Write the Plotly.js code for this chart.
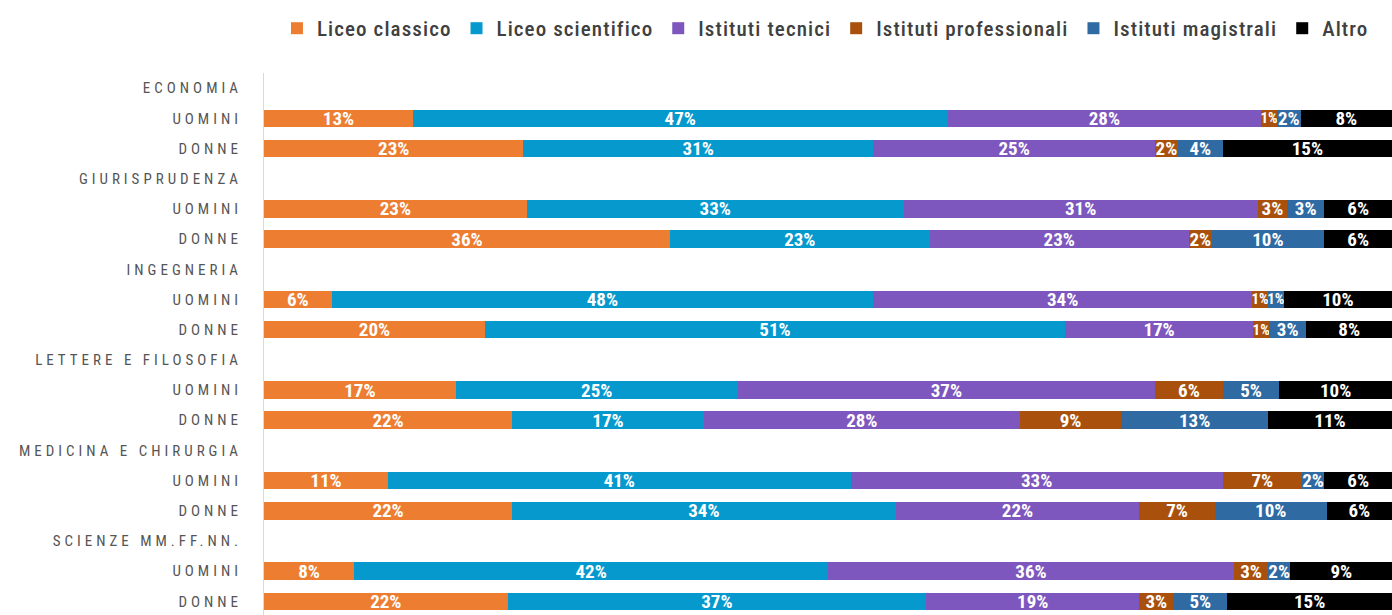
<!DOCTYPE html>
<html><head><meta charset="utf-8">
<script src="https://cdn.plot.ly/plotly-3.0.1.min.js"></script>
<style>
html,body{margin:0;padding:0;background:#fff;}
#chart{width:1392px;height:615px;}
.ytick text{letter-spacing:4px;}
.legendtext{letter-spacing:1.1px;}
</style></head><body><div id="chart"></div>
<script>
const faculties = ["ECONOMIA","GIURISPRUDENZA","INGEGNERIA","LETTERE E FILOSOFIA","MEDICINA E CHIRURGIA","SCIENZE MM.FF.NN."];
const genders = ["UOMINI","DONNE"];
const seriesNames = ["Liceo classico","Liceo scientifico","Istituti tecnici","Istituti professionali","Istituti magistrali","Altro"];
const seriesColors = ["#ED7D31","#0599CE","#7E57BE","#A9510C","#2F6AA3","#000000"];
// rows in order: ECONOMIA U, D, GIURISPRUDENZA U, D, INGEGNERIA U, D, LETTERE U, D, MEDICINA U, D, SCIENZE U, D
const liceoClassico      = [13.2, 23, 23.3, 36,  6,   19.6, 17, 22, 11, 22,   8, 21.6];
const liceoScientifico   = [47.4, 31, 33.4, 23, 48,   51.4, 25, 17, 41, 34,  42, 37.1];
const istitutiTecnici    = [27.8, 25, 31.4, 23, 33.6, 16.7, 37, 28, 33, 21.6, 36, 18.9];
const istitutiProf       = [ 1.4,  2,  2.6,  2,  1.4,  1.4,  6,  9,  7,  6.7, 3,  3.0];
const istitutiMagistrali = [ 2.1,  4,  3.3, 10,  1.4,  3.3,  5, 13,  2,  9.9, 2,  4.8];
const altro              = [ 8.1, 15,  6.0,  6,  9.6,  7.6, 10, 11,  6,  5.8, 9, 14.6];
const seriesValues = [liceoClassico, liceoScientifico, istitutiTecnici, istitutiProf, istitutiMagistrali, altro];

const FONT = '"Roboto Condensed","Open Sans",sans-serif';

// build category axis: header row + gender rows per faculty
const categoryKeys = [], categoryLabels = [], barKeys = [];
faculties.forEach(f => {
  categoryKeys.push(f); categoryLabels.push(f);
  genders.forEach(g => {
    const k = f + "|" + g;
    categoryKeys.push(k); categoryLabels.push(g); barKeys.push(k);
  });
});

const traces = seriesNames.map((name, i) => ({
  type: 'bar', orientation: 'h', name: name,
  x: seriesValues[i], y: barKeys,
  marker: {color: seriesColors[i], line: {width: 0}},
  texttemplate: '%{x:.0f}%',
  textposition: 'inside', insidetextanchor: 'middle', textangle: 0,
  constraintext: 'none',
  insidetextfont: {family: FONT, color: '#ffffff', weight: 700,
    size: seriesValues[i].map(v => v < 1.6 ? 15 : 19)},
  hoverinfo: 'name+x', cliponaxis: false
}));

const layout = {
  width: 1392, height: 615,
  barmode: 'stack', bargap: 0.42,
  margin: {l: 264, r: 0, t: 73, b: 0},
  paper_bgcolor: '#fff', plot_bgcolor: '#fff',
  font: {family: FONT, color: '#555'},
  xaxis: {range: [0, 100], showgrid: false, zeroline: false, showticklabels: false, showline: false, fixedrange: true},
  yaxis: {
    type: 'category', categoryorder: 'array', categoryarray: categoryKeys,
    tickmode: 'array', tickvals: categoryKeys, ticktext: categoryLabels,
    range: [17.45, -0.5], showgrid: false, zeroline: false,
    showline: true, linecolor: '#d9d9d9', linewidth: 1,
    ticks: '', ticklabelstandoff: 18,
    tickfont: {family: FONT, size: 15, color: '#555555', weight: 400}
  },
  showlegend: true,
  legend: {orientation: 'h', x: 0.0115, xanchor: 'left', y: 1.082, yanchor: 'middle',
    font: {family: FONT, size: 21, color: '#404040', weight: 500}, traceorder: 'normal', itemwidth: 30},
};

Plotly.newPlot('chart', traces, layout, {displayModeBar: false, staticPlot: true});
</script></body></html>
